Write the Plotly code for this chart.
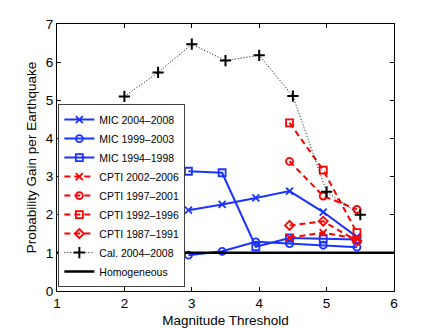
import plotly.graph_objects as go

# magnitude thresholds (coloured series are slightly offset in the source figure)
mag_mic     = [2.95, 3.45, 3.95, 4.45, 4.95, 5.45]
mag_cpti    = [4.45, 4.95, 5.45]
mag_cal     = [2.0, 2.5, 3.0, 3.5, 4.0, 4.5, 5.0, 5.5]
mag_homog   = [1.0, 6.0]

mic_2004    = [2.12, 2.27, 2.44, 2.62, 2.07, 1.42]
mic_1999    = [0.94, 1.04, 1.29, 1.24, 1.20, 1.15]
mic_1994    = [3.14, 3.10, 1.16, 1.39, 1.37, 1.35]

cpti_2002   = [1.40, 1.53, 1.37]
cpti_1997   = [3.40, 2.49, 2.14]
cpti_1992   = [4.41, 3.17, 1.53]
cpti_1987   = [1.72, 1.83, 1.31]

cal_2004    = [5.10, 5.73, 6.47, 6.04, 6.18, 5.11, 2.60, 2.00]
homog       = [1.0, 1.0]

BLUE    = "#1a33ff"
RED     = "#ff0000"

fig = go.Figure()

for x, y, color, dash, symbol, name in [
    ( mag_mic,  mic_2004,  BLUE, "solid",     "x-thin",      "MIC 2004\u20132008"  ),
    ( mag_mic,  mic_1999,  BLUE, "solid",     "circle-open", "MIC 1999\u20132003"  ),
    ( mag_mic,  mic_1994,  BLUE, "solid",     "square-open", "MIC 1994\u20131998"  ),
    ( mag_cpti, cpti_2002, RED,  "6px,4px",   "x-thin",      "CPTI 2002\u20132006" ),
    ( mag_cpti, cpti_1997, RED,  "6px,4px",   "circle-open", "CPTI 1997\u20132001" ),
    ( mag_cpti, cpti_1992, RED,  "6px,4px",   "square-open", "CPTI 1992\u20131996" ),
    ( mag_cpti, cpti_1987, RED,  "6px,4px",   "diamond-open","CPTI 1987\u20131991" ),
]:
    fig.add_trace(
        go.Scatter(
            x       = x,
            y       = y,
            mode    = "lines+markers",
            name    = name,
            line    = {"color": color, "width": 2, "dash": dash},
            marker  = {
                "symbol": symbol,
                "size":   7,
                "color":  color,
                "line":   {"color": color, "width": 1.8}
            }
        )
    )

fig.add_trace(
    go.Scatter(
        x       = mag_cal,
        y       = cal_2004,
        mode    = "lines+markers",
        name    = "Cal. 2004\u20132008",
        line    = {"color": "#000000", "width": 1, "dash": "1px,2px"},
        marker  = {
            "symbol": "cross-thin",
            "size":   8,
            "color":  "#000000",
            "line":   {"color": "#000000", "width": 2}
        }
    )
)

fig.add_trace(
    go.Scatter(
        x       = mag_homog,
        y       = homog,
        mode    = "lines",
        name    = "Homogeneous",
        line    = {"color": "#000000", "width": 2.5}
    )
)

axis_common = dict(
    showline    = True,
    linecolor   = "#000000",
    linewidth   = 1,
    mirror      = "ticks",
    ticks       = "inside",
    ticklen     = 4,
    tickcolor   = "#000000",
    showgrid    = False,
    zeroline    = False,
    automargin  = False,
    dtick       = 1,
    tickfont    = {"size": 13.5, "color": "#000000"},
)

fig.update_layout(
    width           = 436,
    height          = 328,
    margin          = {"l": 57, "r": 42, "t": 24, "b": 37},
    paper_bgcolor   = "#ffffff",
    plot_bgcolor    = "#ffffff",
    font            = {"family": "Liberation Sans, Arial, sans-serif", "color": "#000000"},
    xaxis           = dict(
        axis_common,
        range       = [1, 6],
        title       = {"text": "Magnitude Threshold", "font": {"size": 13.5}, "standoff": 5},
    ),
    yaxis           = dict(
        axis_common,
        range       = [0, 7],
        title       = {"text": "Probability Gain per Earthquake", "font": {"size": 13.5}, "standoff": 6},
    ),
    legend          = {
        "x":            0.004,
        "y":            0.70,
        "xanchor":      "left",
        "yanchor":      "top",
        "bgcolor":      "#ffffff",
        "bordercolor":  "#404040",
        "borderwidth":  1,
        "font":         {"size": 10.5, "color": "#000000"},
        "itemwidth":    30,
    },
    showlegend      = True,
)

# drop the page's default body margin so the figure sits at the window's corner
fig.write_html(
    "out.html",
    config      = {"displayModeBar": False},
    post_script = "document.body.style.margin = '0';"
)
